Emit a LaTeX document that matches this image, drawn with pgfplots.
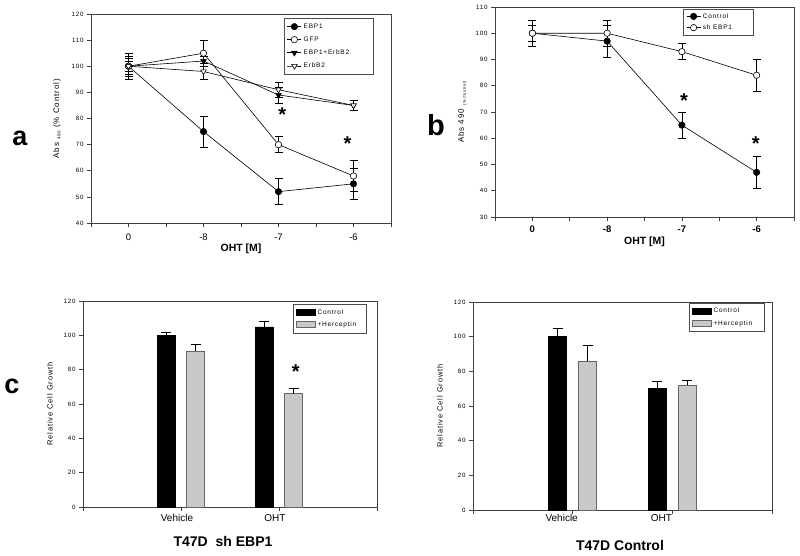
\documentclass[border=0pt]{standalone}
\usepackage{fontspec}
\setmainfont{Liberation Sans}
\newfontfamily\lsp[LetterSpace=12]{Liberation Sans}
\usepackage{pgfplots}
\pgfplotsset{compat=1.18}
\definecolor{hgray}{HTML}{C8C8C8}
\tikzset{sig/.style={font=\fontsize{20}{20}\selectfont\bfseries, anchor=base, inner sep=0pt, yshift=-11pt}}
\pgfplotsset{
  base/.style={
    scale only axis, anchor=south west, clip=false,
    axis line style={black!75, line width=0.7pt},
    every tick/.style={black!75, line width=0.6pt},
    tick align=outside, major tick length=4pt,
    xtick pos=bottom, ytick pos=left,
    /pgf/number format/assume math mode=true,
    yticklabel style={font=\lsp\fontsize{6.2}{7}\selectfont},
    ylabel style={font=\lsp\fontsize{8}{9}\selectfont},
    legend cell align=left,
  },
  lp/.style={black, line width=0.6pt, mark size=3.2pt,
    error bars/y dir=both, error bars/y explicit,
    error bars/error bar style={black, line width=0.6pt},
    error bars/error mark options={rotate=90, mark size=4pt, black, line width=0.6pt}},
  limg/.style={legend image code/.code={\draw[mark repeat=2,mark phase=2,##1] plot coordinates {(0pt,0pt) (7pt,0pt) (14pt,0pt)};}},
  bimg/.style={legend image code/.code={\draw[##1] (0pt,-3pt) rectangle (19pt,3pt);}},
  barerr/.style={error bars/y dir=plus, error bars/y explicit,
    error bars/error bar style={black, line width=0.6pt},
    error bars/error mark options={rotate=90, mark size=5pt, black, line width=0.6pt}},
}
\begin{document}
\begin{tikzpicture}
\path[use as bounding box] (0pt,0pt) rectangle (800pt,555pt);

% ---------------- panel a ----------------
\begin{axis}[base, at={(91pt,332pt)}, width=300pt, height=209pt,
  xmin=-0.5, xmax=3.5, ymin=40, ymax=120, ytick={40,50,...,120},
  xtick={-0.5,0,0.5,1,1.5,2,2.5,3,3.5}, xticklabels={,0,,-8,,-7,,-6,},
  xticklabel style={font=\fontsize{9.5}{11}\selectfont, yshift=-3pt},
  xlabel={OHT [M]}, xlabel style={font=\bfseries\fontsize{10.5}{12}\selectfont, yshift=3pt},
  ylabel={Abs {\fontsize{4.5}{5}\selectfont\raisebox{-1.5pt}{490}} (\% Control)},
  ylabel shift=4pt,
  limg,
  legend style={at={(rel axis cs:0.643,0.981)}, anchor=north west, draw=black!70, fill=white,
    font=\lsp\fontsize{6.5}{7}\selectfont, inner xsep=3pt, inner ysep=3.5pt, row sep=3pt},
]
\addplot[lp, mark=*, mark options={fill=black}] coordinates {
  (0,100) +- (0,5) (1,75) +- (0,6) (2,52) +- (0,5) (3,55) +- (0,6)};
\addlegendentry{\makebox[64pt][l]{EBP1}}
\addplot[lp, mark=*, mark options={fill=white}] coordinates {
  (0,100) +- (0,3) (1,105) +- (0,5) (2,70) +- (0,3) (3,58) +- (0,6)};
\addlegendentry{\makebox[64pt][l]{GFP}}
\addplot[lp, mark=triangle*, mark options={fill=black, rotate=180}] coordinates {
  (0,100) +- (0,2) (1,102) +- (0,2) (2,89) +- (0,3) (3,85) +- (0,2)};
\addlegendentry{\makebox[64pt][l]{EBP1+ErbB2}}
\addplot[lp, mark=triangle*, mark options={fill=white, rotate=180}] coordinates {
  (0,100) +- (0,4) (1,98) +- (0,3) (2,91) +- (0,3) (3,85) +- (0,2)};
\addlegendentry{\makebox[64pt][l]{ErbB2}}
\node[sig] at (axis cs:2.05,83) {*};
\node[sig] at (axis cs:2.92,72) {*};
\end{axis}

% ---------------- panel b ----------------
\begin{axis}[base, at={(495pt,338pt)}, width=299pt, height=210pt,
  xmin=-0.5, xmax=3.5, ymin=30, ymax=110, ytick={30,40,...,110},
  xtick={-0.5,0,0.5,1,1.5,2,2.5,3,3.5}, xticklabels={,0,,-8,,-7,,-6,},
  xticklabel style={font=\bfseries\fontsize{9.5}{11}\selectfont, yshift=-1pt},
  xlabel={OHT [M]}, xlabel style={font=\bfseries\fontsize{10.5}{12}\selectfont, yshift=2pt},
  ylabel={Abs 490 {\fontsize{4}{5}\selectfont\raisebox{-2pt}{(\% Control)}}},
  ylabel shift=2pt,
  limg,
  legend style={at={(rel axis cs:0.629,0.99)}, anchor=north west, draw=black!70, fill=white,
    font=\lsp\fontsize{6.5}{7}\selectfont, inner xsep=3pt, inner ysep=2pt, row sep=1pt},
]
\addplot[lp, mark=*, mark options={fill=black}] coordinates {
  (0,100) +- (0,3) (1,97) +- (0,6) (2,65) +- (0,5) (3,47) +- (0,6)};
\addlegendentry{\makebox[45pt][l]{Control}}
\addplot[lp, mark=*, mark options={fill=white}] coordinates {
  (0,100) +- (0,5) (1,100) +- (0,5) (2,93) +- (0,3) (3,84) +- (0,6)};
\addlegendentry{\makebox[45pt][l]{sh EBP1}}
\node[sig] at (axis cs:2.03,75.8) {*};
\node[sig] at (axis cs:2.99,59.6) {*};
\end{axis}

% ---------------- panel c ----------------
\begin{axis}[base, at={(83pt,48pt)}, width=294pt, height=206pt,
  xmin=0, xmax=3, ymin=0, ymax=120, ytick={0,20,...,120},
  xtick={0,1,2,3}, xticklabels={,Vehicle,OHT,},
  xticklabel style={font=\fontsize{10}{12}\selectfont, xshift=-4pt},
  ylabel={Relative Cell Growth}, ylabel style={font=\lsp\fontsize{7.5}{9}\selectfont},
  ylabel shift=4pt,
  legend style={at={(rel axis cs:0.714,0.985)}, anchor=north west, draw=black!70, fill=white,
    font=\lsp\fontsize{6.5}{7}\selectfont, inner xsep=3pt, inner ysep=3pt, row sep=2pt},
]
\addplot[ybar, bar width=18pt, bar shift=0pt, fill=black, draw=black, line width=0.5pt, bimg, barerr]
  coordinates {(0.85,100) +- (0,2) (1.85,105) +- (0,3)};
\addlegendentry{\makebox[44pt][l]{Control}}
\addplot[ybar, bar width=18pt, bar shift=0pt, fill=hgray, draw=black!60, line width=0.5pt, bimg, barerr]
  coordinates {(1.15,91) +- (0,4) (2.15,66) +- (0,3)};
\addlegendentry{\makebox[44pt][l]{+Herceptin}}
\node[sig] at (axis cs:2.17,81.5) {*};
\end{axis}

% ---------------- panel d ----------------
\begin{axis}[base, at={(473pt,45pt)}, width=299pt, height=208pt,
  xmin=0, xmax=3, ymin=0, ymax=120, ytick={0,20,...,120},
  xtick={0,1,2,3}, xticklabels={,Vehicle,OHT,},
  xticklabel style={font=\fontsize{10}{12}\selectfont, xshift=-11pt, yshift=3pt},
  ylabel={Relative Cell Growth}, ylabel style={font=\lsp\fontsize{7.5}{9}\selectfont},
  ylabel shift=4pt,
  legend style={at={(rel axis cs:0.722,0.995)}, anchor=north west, draw=black!70, fill=white,
    font=\lsp\fontsize{6.5}{7}\selectfont, inner xsep=3pt, inner ysep=3pt, row sep=2pt},
]
\addplot[ybar, bar width=18pt, bar shift=0pt, fill=black, draw=black, line width=0.5pt, bimg, barerr]
  coordinates {(0.85,100) +- (0,5) (1.85,70) +- (0,4)};
\addlegendentry{\makebox[46pt][l]{Control}}
\addplot[ybar, bar width=18pt, bar shift=0pt, fill=hgray, draw=black!60, line width=0.5pt, bimg, barerr]
  coordinates {(1.15,86) +- (0,9) (2.15,72) +- (0,3)};
\addlegendentry{\makebox[46pt][l]{+Herceptin}}
\end{axis}

% panel letters and titles
\node[font=\bfseries\fontsize{27}{27}\selectfont] at (20pt,417pt) {a};
\node[font=\bfseries\fontsize{29}{29}\selectfont] at (436pt,430pt) {b};
\node[font=\bfseries\fontsize{27}{27}\selectfont] at (12pt,169pt) {c};
\node[font=\bfseries\fontsize{14}{16}\selectfont] at (223pt,14pt) {T47D\ \ sh EBP1};
\node[font=\bfseries\fontsize{14}{16}\selectfont] at (620pt,10pt) {T47D Control};
\end{tikzpicture}
\end{document}
